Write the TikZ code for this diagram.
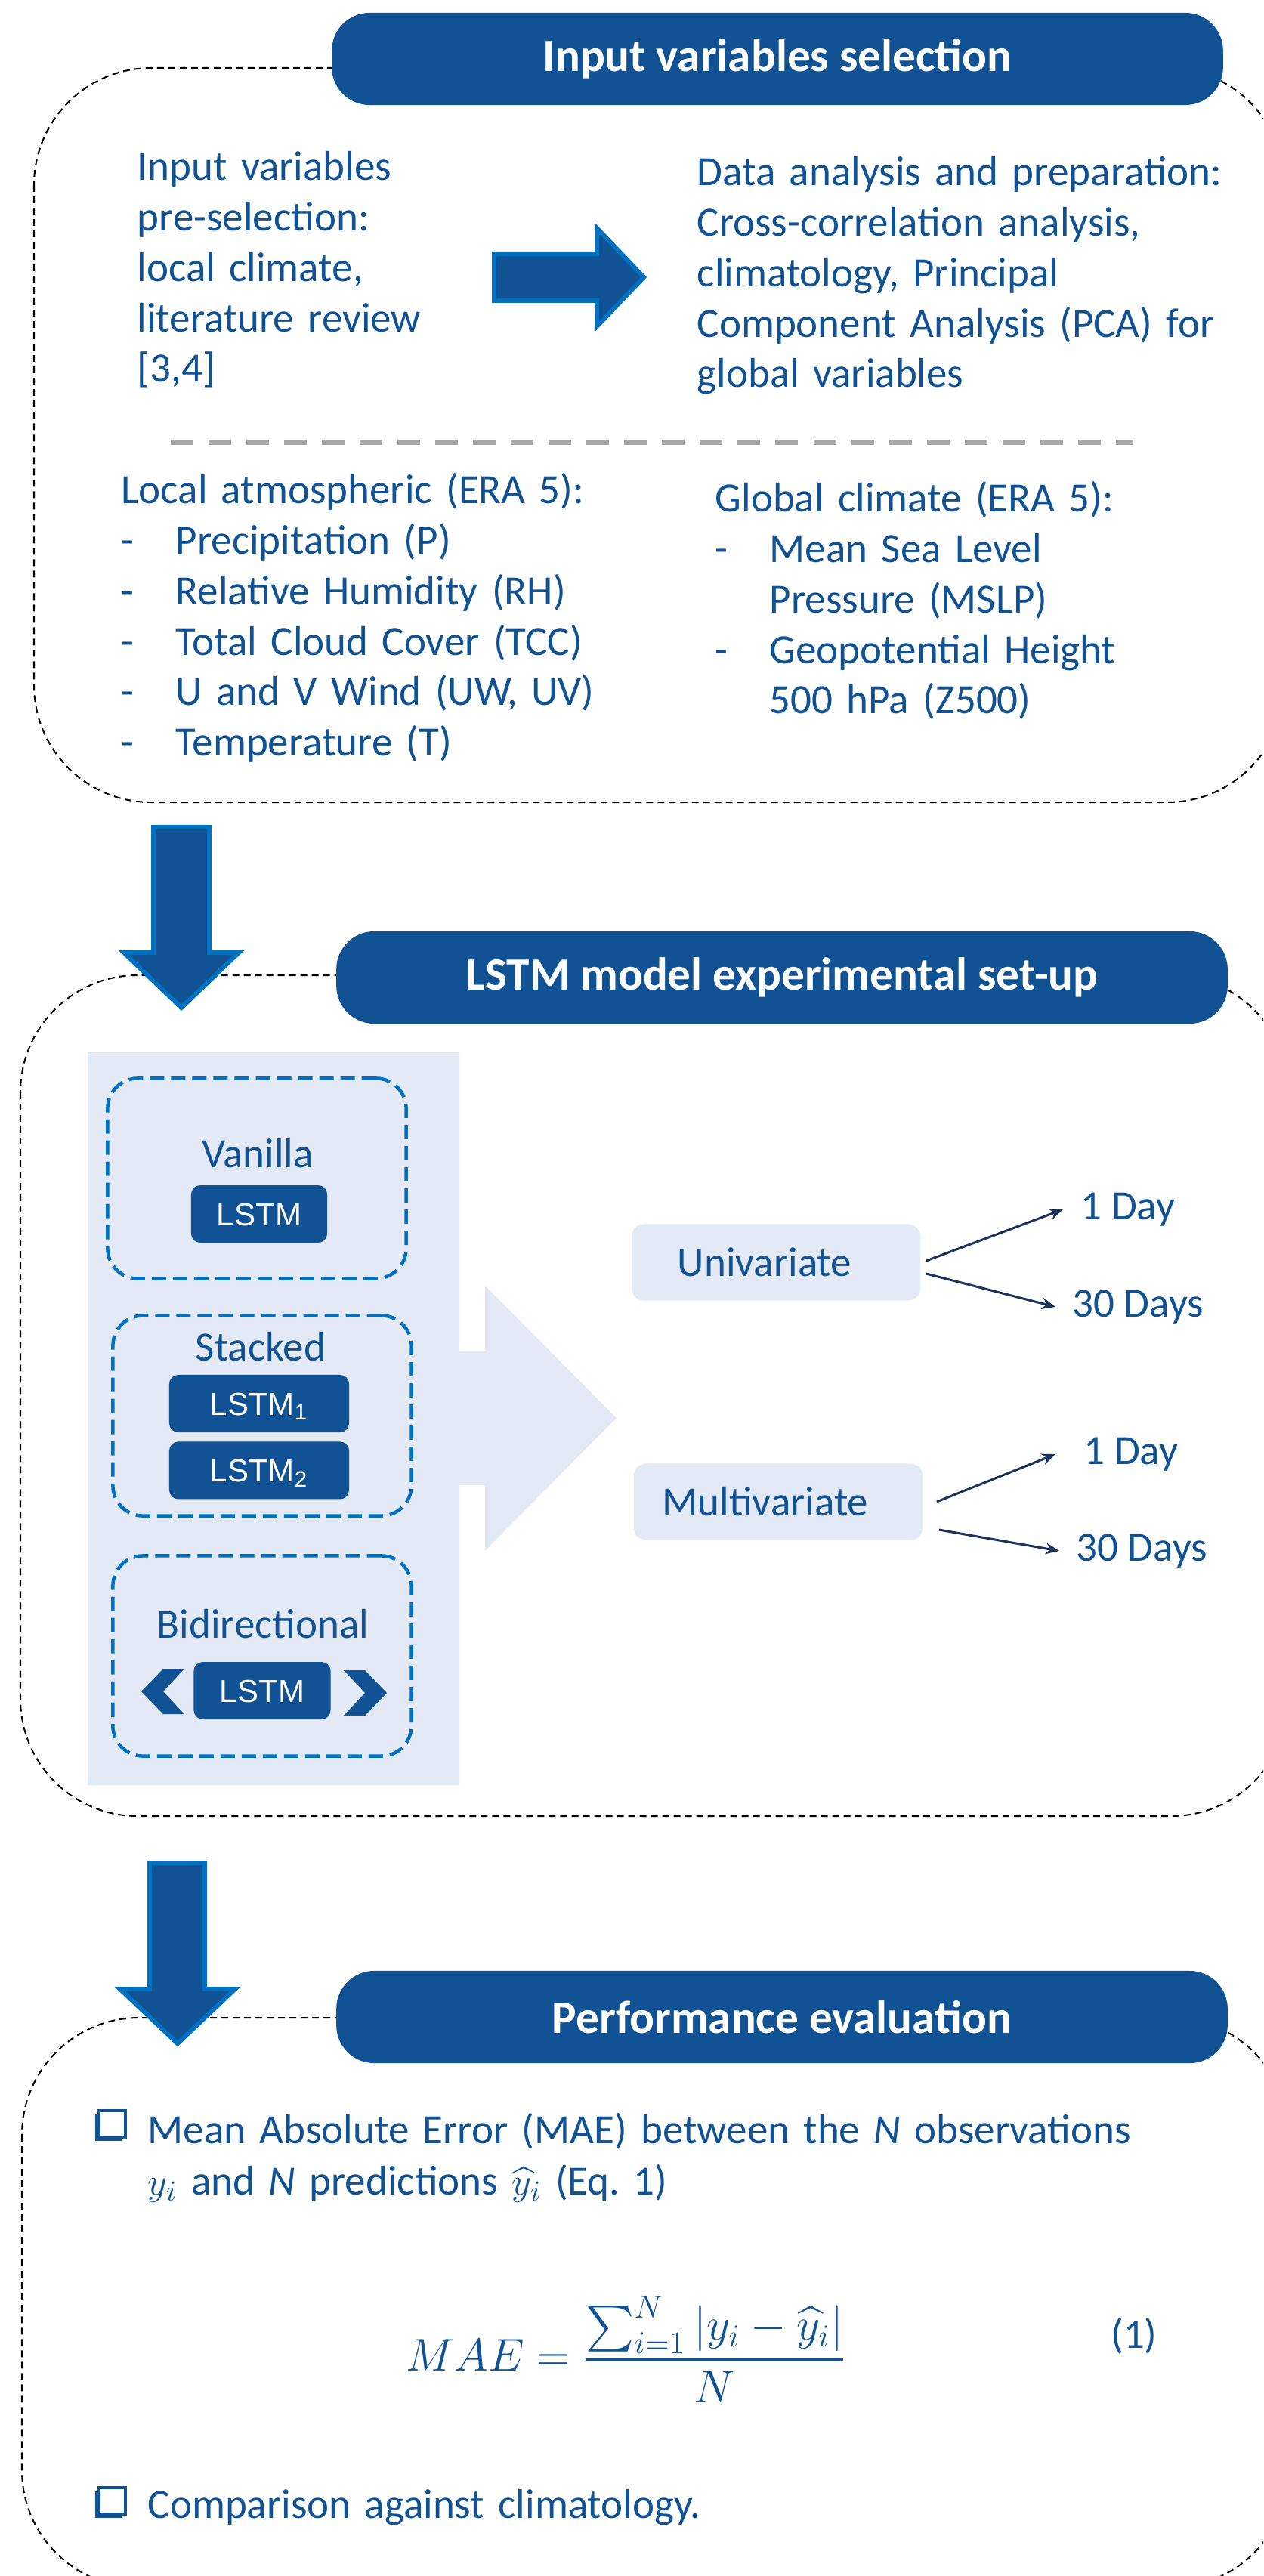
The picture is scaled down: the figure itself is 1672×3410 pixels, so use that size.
\documentclass[tikz,border=0pt]{standalone}
\usepackage{amsmath}
\usepackage{fontspec}
\setmainfont{Carlito}
\newfontfamily\arialfont{Liberation Sans}
\usetikzlibrary{positioning,arrows.meta}
\definecolor{mainblue}{RGB}{16,82,148}
\definecolor{edgeblue}{RGB}{0,112,192}
\definecolor{paleblue}{RGB}{228,234,245}
\definecolor{navy}{RGB}{28,52,92}
\definecolor{dashgray}{RGB}{166,166,166}
\newcommand\dashitem{\makebox[0.72cm][l]{-}}

\begin{document}
\begin{tikzpicture}[x=0.01cm, y=-0.01cm,
    txt/.style={text=mainblue, inner sep=0pt, font=\fontsize{15.65}{18.98}\selectfont},
    listtxt/.style={txt, text width=7.2cm, align=left, anchor=base west},
    banner/.style={fill=mainblue, rounded corners=0.5cm, minimum width=11.79cm,
      minimum height=1.22cm, text=white, font=\fontsize{17.4}{21}\selectfont\bfseries},
    stagebox/.style={draw=black, line width=0.02cm, dash pattern=on 0.09cm off 0.06cm,
      rounded corners=1.55cm},
    bigarrow/.style={fill=mainblue, draw=edgeblue, line width=0.06cm},
    variant/.style={draw=edgeblue, line width=0.045cm, dash pattern=on 0.19cm off 0.09cm,
      rounded corners=0.4cm, minimum width=3.95cm, minimum height=2.65cm},
    lstm/.style={fill=mainblue, rounded corners=0.12cm, text=white, minimum height=0.76cm,
      text height=0.31cm, text depth=0cm, font=\arialfont\fontsize{11.95}{14}\selectfont},
    modebox/.style={fill=paleblue, rounded corners=0.16cm, minimum width=3.82cm,
      minimum height=1.01cm, text=mainblue, font=\fontsize{15.65}{18.98}\selectfont},
    conn/.style={->, draw=navy, line width=0.03cm},
    >={Stealth[length=0.18cm,width=0.15cm]}]
  \useasboundingbox (0,0) rectangle (1672,3410);
  \clip (0,0) rectangle (1672,3410);

  \draw[stagebox] (45,90) rectangle (1700,1062);
  \node[banner] (inbanner) at (1029,78) {Input variables selection};
  \node[listtxt, text width=4.5cm] (presel) at (181,239)
    {Input variables\\pre-selection:\\local climate,\\literature review\\{[3,4]}};
  \draw[bigarrow] (654,336) -- (790,336) -- (790,302) -- (852,367) -- (790,432)
    -- (790,398) -- (654,398) -- cycle;
  \node[listtxt] (prep) at (922,246)
    {Data analysis and preparation:\\Cross-correlation analysis,\\climatology, Principal\\Component Analysis (PCA) for\\global variables};
  \draw[dashgray, line width=0.07cm, dash pattern=on 0.3cm off 0.2cm] (226,586) -- (1500,586);
  \node[listtxt] (local) at (160,667)
    {Local atmospheric (ERA 5):\\
     \dashitem Precipitation (P)\\
     \dashitem Relative Humidity (RH)\\
     \dashitem Total Cloud Cover (TCC)\\
     \dashitem U and V Wind (UW, UV)\\
     \dashitem Temperature (T)};
  \node[listtxt, text width=6.5cm] (global) at (946,678)
    {Global climate (ERA 5):\\
     \dashitem Mean Sea Level\\
     \hspace*{0.72cm}Pressure (MSLP)\\
     \dashitem Geopotential Height\\
     \hspace*{0.72cm}500 hPa (Z500)};

  \draw[stagebox] (27,1291) rectangle (1705,2404);
  \node[banner] (lstmbanner) at (1035,1294) {LSTM model experimental set-up};
  \draw[bigarrow] (203,1095) -- (277,1095) -- (277,1261) -- (316,1261) -- (240,1334)
    -- (164,1261) -- (203,1261) -- cycle;
  \fill[paleblue] (116,1393) -- (608,1393) -- (608,1789) -- (642,1789) -- (642,1702)
    -- (816,1877) -- (642,2053) -- (642,1966) -- (608,1966) -- (608,2363) -- (116,2363) -- cycle;
  \node[variant] (vanilla) at (340,1560) {};
  \node[txt] (vanlabel) at (341,1527) {Vanilla};
  \node[lstm, minimum width=1.8cm] (vanlstm) at (343,1607) {LSTM};
  \node[variant] (stacked) at (347,1874) {};
  \node[txt] (stlabel) at (345,1783) {Stacked};
  \node[lstm, minimum width=2.38cm] (stlstma) at (343,1858) {LSTM\textsubscript{1}};
  \node[lstm, minimum width=2.38cm, below=0.11cm of stlstma] (stlstmb) {LSTM\textsubscript{2}};
  \node[variant] (bidir) at (347,2192) {};
  \node[txt] (bilabel) at (348,2150) {Bidirectional};
  \node[lstm, minimum width=1.81cm] (bilstm) at (347,2238) {LSTM};
  \fill[mainblue] (216,2209) -- (187,2239) -- (216,2269) -- (244,2269) -- (216,2239)
    -- (244,2209) -- cycle;
  \fill[mainblue] (455,2211) -- (483,2211) -- (512,2241) -- (483,2271) -- (455,2271)
    -- (483,2241) -- cycle;
  \node[modebox] (uni) at (1027,1671) {Univariate\hspace*{0.3cm}};
  \node[modebox] (multi) at (1030,1988) {Multivariate\hspace*{0.34cm}};
  \node[txt, anchor=west] (uniday) at (1430,1601) {1 Day};
  \node[txt, anchor=west] (unimonth) at (1419,1730) {30 Days};
  \node[txt, anchor=west] (multiday) at (1434,1925) {1 Day};
  \node[txt, anchor=west] (multimonth) at (1424,2053) {30 Days};
  \draw[conn] ([xshift=0.07cm,yshift=0.02cm]uni.east) -- ([xshift=-0.23cm]uniday.west);
  \draw[conn] ([xshift=0.07cm,yshift=-0.15cm]uni.east) -- ([xshift=-0.22cm]unimonth.west);
  \draw[conn] ([xshift=0.18cm]multi.east) -- ([xshift=-0.37cm]multiday.west);
  \draw[conn] ([xshift=0.21cm,yshift=-0.37cm]multi.east) -- ([xshift=-0.22cm]multimonth.west);

  \draw[stagebox] (29,2671) rectangle (1705,3425);
  \node[banner] (evalbanner) at (1035,2670) {Performance evaluation};
  \draw[bigarrow] (198,2466) -- (271,2466) -- (271,2633) -- (311,2633) -- (235,2705)
    -- (159,2633) -- (198,2633) -- cycle;
  \fill[mainblue] (126,2799) rectangle (161,2834);
  \draw[mainblue, fill=white, line width=0.04cm] (131,2794) rectangle (166,2829);
  \node[listtxt, text width=13.5cm, font=\fontsize{15.65}{19.6}\selectfont] (maetxt) at (195,2837)
    {Mean Absolute Error (MAE) between the \textit{N} observations\\
     $y_i$ and \textit{N} predictions $\widehat{y}_i$ (Eq.~1)};
  \node[txt, font=\fontsize{17.5}{21}\selectfont] (mae) at (829,3110)
    {$\displaystyle MAE = \frac{\sum_{i=1}^{N} |y_i - \widehat{y}_i|}{N}$};
  \node[txt] (eqno) at (1501,3092) {(1)};
  \fill[mainblue] (126,3298) rectangle (161,3333);
  \draw[mainblue, fill=white, line width=0.04cm] (131,3293) rectangle (166,3328);
  \node[listtxt, text width=12cm] (climtxt) at (195,3333) {Comparison against climatology.};
\end{tikzpicture}
\end{document}
